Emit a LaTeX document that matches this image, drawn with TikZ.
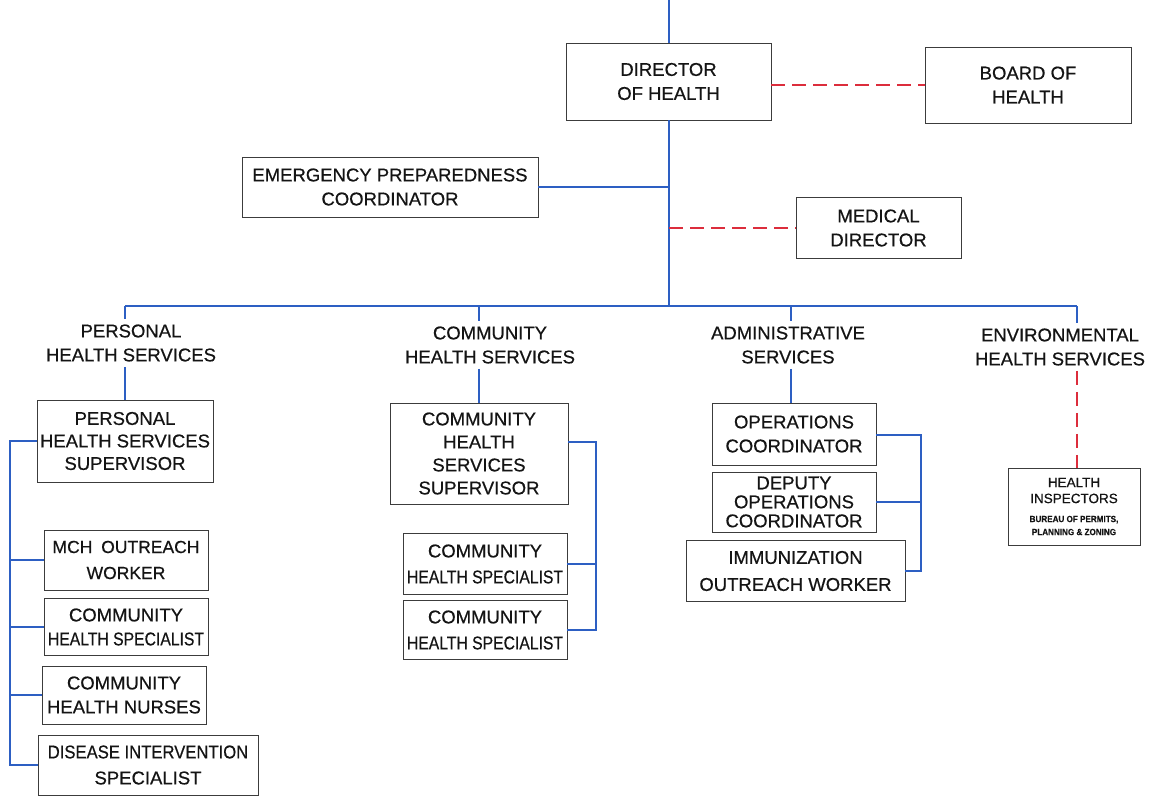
\documentclass[tikz,border=0pt]{standalone}
\usepackage{fontspec}
\setmainfont{Liberation Sans}[FakeBold=0.5]
\usepackage{graphicx}
\definecolor{lineblue}{RGB}{45,95,195}
\definecolor{dashred}{RGB}{220,45,60}
\definecolor{ink}{RGB}{20,20,20}
\definecolor{boxline}{RGB}{60,60,60}
\newcommand{\sqz}[2][0.85]{\scalebox{#1}[1]{#2}}
\begin{document}
\begin{tikzpicture}[x=1pt,y=-1pt,
  box/.style={draw=boxline, line width=0.9pt, inner sep=0pt, align=center, text=ink,
    font=\fontsize{18.5}{24}\selectfont},
  lbl/.style={inner xsep=0pt, inner ysep=5pt, align=center, text=ink,
    font=\fontsize{18.5}{24}\selectfont},
  link/.style={draw=lineblue, line width=1.6pt},
  dlink/.style={draw=dashred, line width=2pt, dash pattern=on 14pt off 7pt}
]
\fill[white] (0,0) rectangle (1158,797);
\useasboundingbox (0,0) rectangle (1158,797);

% top level
\node[box, minimum width=205pt, minimum height=77pt] (dir) at (668.5,81.5) {DIRECTOR\\OF HEALTH};
\node[box, minimum width=206pt, minimum height=76pt] (board) at (1028,85) {BOARD OF\\HEALTH};
\node[box, minimum width=296pt, minimum height=60pt] (emerg) at (390,187) {EMERGENCY PREPAREDNESS\\COORDINATOR};
\node[box, minimum width=165pt, minimum height=61pt] (med) at (878.5,228) {MEDICAL\\DIRECTOR};

% division labels
\node[lbl] (phsl) at (131,343) {PERSONAL\\HEALTH SERVICES};
\node[lbl] (chsl) at (490,345) {COMMUNITY\\HEALTH SERVICES};
\node[lbl] (adml) at (788,345) {ADMINISTRATIVE\\SERVICES};
\node[lbl] (envl) at (1060,347) {ENVIRONMENTAL\\HEALTH SERVICES};

% personal health
\node[box, minimum width=176pt, minimum height=82pt, font=\fontsize{18.5}{22.5}\selectfont] (phss) at (125,441) {PERSONAL\\HEALTH SERVICES\\SUPERVISOR};
\node[box, minimum width=164pt, minimum height=60pt, font=\fontsize{17.5}{26}\selectfont] (mch) at (126,560) {MCH\hspace{4pt} OUTREACH\\WORKER};
\node[box, minimum width=164pt, minimum height=57pt] (cs1) at (126,627) {COMMUNITY\\\sqz{HEALTH SPECIALIST}};
\node[box, minimum width=164pt, minimum height=58pt] (chn) at (124,695) {COMMUNITY\\HEALTH NURSES};
\node[box, minimum width=220pt, minimum height=60pt, font=\fontsize{18.5}{26}\selectfont] (dis) at (148,765) {\sqz[0.9]{DISEASE INTERVENTION}\\SPECIALIST};

% community health
\node[box, minimum width=178pt, minimum height=101pt, font=\fontsize{18.5}{23}\selectfont] (chss) at (479,453.5) {COMMUNITY\\HEALTH\\SERVICES\\SUPERVISOR};
\node[box, minimum width=164pt, minimum height=61pt, font=\fontsize{18.5}{26}\selectfont] (cs2) at (485,564) {COMMUNITY\\\sqz{HEALTH SPECIALIST}};
\node[box, minimum width=164pt, minimum height=59pt, font=\fontsize{18.5}{26}\selectfont] (cs3) at (485,630) {COMMUNITY\\\sqz{HEALTH SPECIALIST}};

% administrative
\node[box, minimum width=164pt, minimum height=62pt] (ops) at (794,434) {OPERATIONS\\COORDINATOR};
\node[box, minimum width=164pt, minimum height=60pt, font=\fontsize{18.5}{19}\selectfont] (dep) at (794,502) {DEPUTY\\OPERATIONS\\COORDINATOR};
\node[box, minimum width=219pt, minimum height=61pt, font=\fontsize{18.5}{27}\selectfont] (imm) at (795.5,571) {IMMUNIZATION\\OUTREACH WORKER};

% environmental
\node[box, minimum width=132pt, minimum height=77pt, font=\fontsize{13.5}{16}\selectfont] (hi) at (1074,506.5)
  {HEALTH\\INSPECTORS\\[3pt]{\fontsize{9}{11}\selectfont\bfseries\sqz[0.9]{BUREAU OF PERMITS,}}\\[-3pt]{\fontsize{9}{11}\selectfont\bfseries\sqz[0.9]{PLANNING \& ZONING}}};

% coordinates
\coordinate (top) at (669,0);
\coordinate (hub) at (669,306);
\coordinate (b1) at (125,306);
\coordinate (b2) at (479,306);
\coordinate (b3) at (791,306);
\coordinate (b4) at (1077,306);
\coordinate (lb) at (10,441);
\coordinate (cb) at (596,442);
\coordinate (ab) at (921,435);

% main spine
\draw[link] (top) -- (top |- dir.north);
\draw[link] (top |- dir.south) -- (hub);
\draw[link] (emerg.east) -- (emerg.east -| top);
\draw[dlink] (dir.east |- board.west) -- (board.west);
\draw[dlink] (med.west -| top) -- (med.west);
\draw[link] (b1) -- (b4);

% drops
\draw[link] (b1) -- (b1 |- phsl.north);
\draw[link] (b1 |- phsl.south) -- (phss.north);
\draw[link] (b2) -- (b2 |- chsl.north);
\draw[link] (b2 |- chsl.south) -- (chss.north);
\draw[link] (b3) -- (b3 |- adml.north);
\draw[link] (b3 |- adml.south) -- (b3 |- ops.north);
\draw[link] (b4) -- (b4 |- envl.north);
\draw[dlink] (b4 |- envl.south) -- (b4 |- hi.north);

% personal bracket
\draw[link] (phss.west |- lb) -- (lb) |- (dis.west);
\draw[link] (lb |- mch.west) -- (mch.west);
\draw[link] (lb |- cs1.west) -- (cs1.west);
\draw[link] (lb |- chn.west) -- (chn.west);

% community bracket
\draw[link] (chss.east |- cb) -- (cb) |- (cs3.east);
\draw[link] (cb |- cs2.east) -- (cs2.east);

% admin bracket
\draw[link] (ops.east |- ab) -- (ab) |- (imm.east);
\draw[link] (ab |- dep.east) -- (dep.east);
\end{tikzpicture}
\end{document}
